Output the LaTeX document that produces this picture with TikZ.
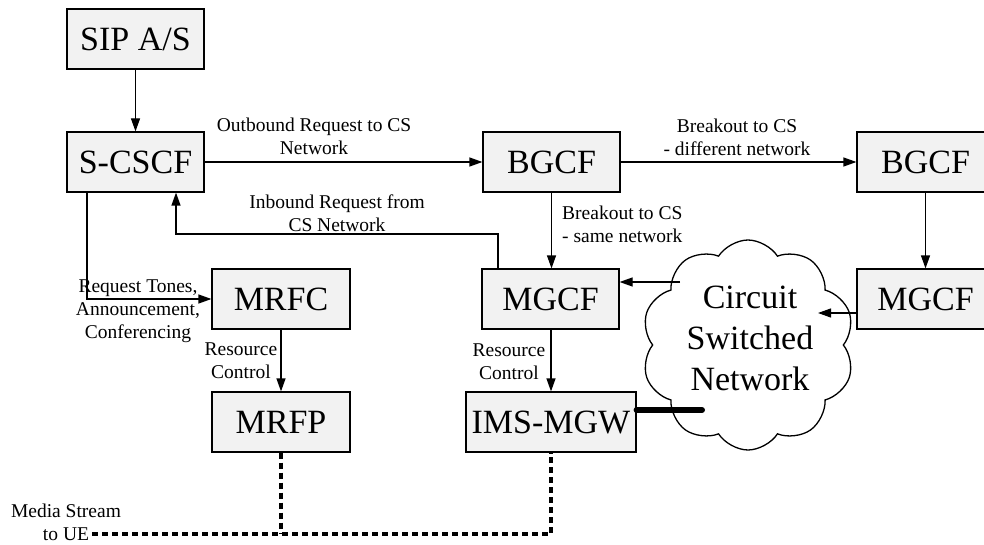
\documentclass[tikz,border=0pt]{standalone}
\usepackage{fontspec}
\setmainfont{Liberation Serif}
\usetikzlibrary{arrows.meta,shapes.symbols}
\definecolor{boxgray}{RGB}{242,242,242}
\tikzset{
  box/.style={draw, fill=boxgray, line width=1.2pt, minimum height=60pt, inner sep=0pt,
              font=\fontsize{34}{38}\selectfont},
  arr/.style={line width=1.2pt, -{Triangle[length=13pt,width=9pt]}},
  lbl/.style={align=center, inner sep=0pt, font=\fontsize{19.5}{23}\selectfont},
  media/.style={line width=3.5pt, dash pattern=on 6pt off 4pt},
  bigline/.style={line width=6pt, line cap=round},
}
\begin{document}
\begin{tikzpicture}[x=1pt,y=-1pt]
\useasboundingbox (0,0) rectangle (984,545);
% cloud
\node[cloud, draw, line width=1.3pt, fill=white, cloud puffs=10, cloud puff arc=115, aspect=1,
      minimum width=213pt, minimum height=210pt, inner sep=0pt] (cloud) at (748,345) {};
\node[align=center, inner sep=0pt, font=\fontsize{34}{41}\selectfont, anchor=base] (cstext) at (750,390) {Circuit\\Switched\\Network};
% boxes
\node[box, minimum width=137pt] (sip) at (135.5,39) {SIP A/S};
\node[box, minimum width=137pt] (scscf) at (135.5,162) {S-CSCF};
\node[box, minimum width=137pt] (bgcf1) at (551.5,162) {BGCF};
\node[box, minimum width=137pt] (bgcf2) at (925.5,162) {BGCF};
\node[box, minimum width=137pt] (mgcf1) at (550.5,299) {MGCF};
\node[box, minimum width=137pt] (mgcf2) at (925.5,299) {MGCF};
\node[box, minimum width=138pt] (mrfc) at (281,299) {MRFC};
\node[box, minimum width=138pt] (mrfp) at (281,422) {MRFP};
\node[box, minimum width=170pt] (imsmgw) at (551,422) {IMS-MGW};
% coordinates
\coordinate (inA) at (498,234);
\coordinate (inB) at (176,234);
\coordinate (mrA) at (87,299);
\coordinate (csA) at (680,282);
\coordinate (csB) at (818,313);
\coordinate (thickend) at (702,410);
\coordinate (ueend) at (92,534);
\coordinate (mgwcorner) at (551,534);
% connectors
\draw[arr] (sip) -- (scscf);
\draw[arr] (scscf.east) -- (bgcf1.west);
\draw[arr] (bgcf1.east) -- (bgcf2.west);
\draw[arr] (bgcf1.south) -- (mgcf1.north -| bgcf1.south);
\draw[arr] (bgcf2.south) -- (mgcf2.north -| bgcf2.south);
\draw[arr] (mgcf2.west |- csB) -- (csB);
\draw[arr] (csA) -- (mgcf1.east |- csA);
\draw[arr] (mgcf1.north -| inA) -- (inA) -- (inB) -- (scscf.south -| inB);
\draw[arr] (scscf.south -| mrA) -- (mrA) -- (mrfc.west);
\draw[arr] (mrfc.south) -- (mrfp.north);
\draw[arr] (mgcf1.south -| imsmgw.north) -- (imsmgw.north);
\draw[bigline] (imsmgw.east |- thickend) -- (thickend);
\draw[media] (ueend) -- (mgwcorner) -- (imsmgw.south);
\draw[media] (mrfp.south) -- (mrfp.south |- ueend);
% labels
\node[lbl, anchor=base] (lout) at (314,155) {Outbound Request to CS\\Network};
\node[lbl, anchor=base] (ldiff) at (737,156) {Breakout to CS\\- different network};
\node[lbl, anchor=base west, align=left] (lsame) at (562,243) {Breakout to CS\\- same network};
\node[lbl, anchor=base] (lin) at (337,232) {Inbound Request from\\CS Network};
\node[lbl, anchor=base] (lreq) at (138,338) {Request Tones,\\Announcement,\\Conferencing};
\node[lbl, anchor=base] (lres1) at (241,378) {Resource\\Control};
\node[lbl, anchor=base] (lres2) at (509,379) {Resource\\Control};
\node[lbl, anchor=base] (lmedia) at (66,540) {Media Stream\\to UE};
\end{tikzpicture}
\end{document}
